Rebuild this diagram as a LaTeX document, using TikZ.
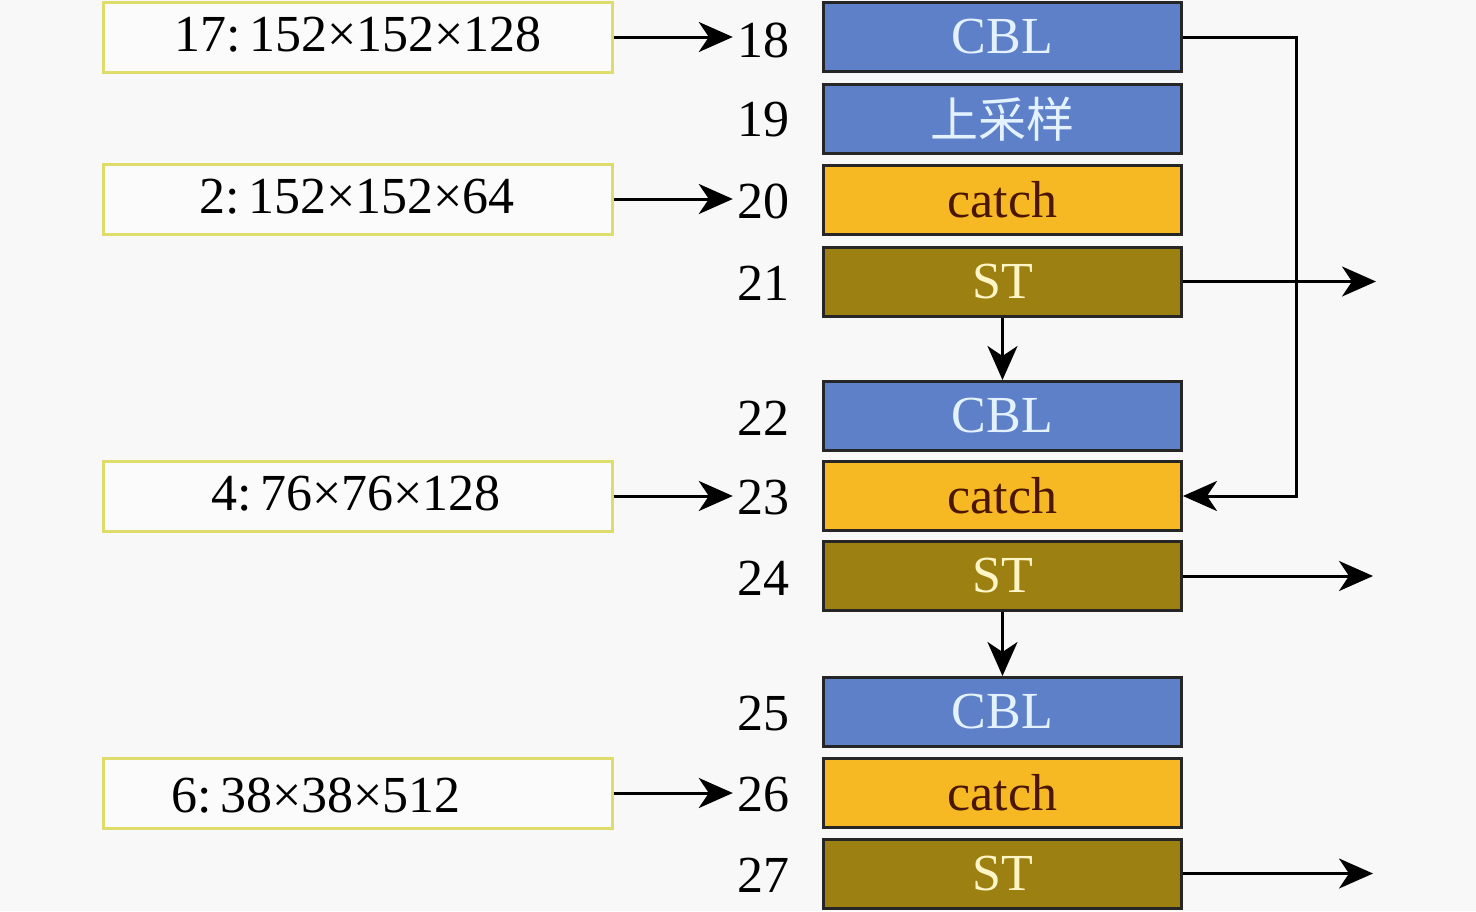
\documentclass[tikz,border=0pt]{standalone}
\usepackage{fontspec}
\setmainfont{Liberation Serif}
\newfontfamily\cjk{Noto Sans CJK SC}
\usetikzlibrary{arrows.meta}
\definecolor{bg}{HTML}{F8F8F8}
\definecolor{cblfill}{HTML}{5E80C9}
\definecolor{cbltext}{HTML}{E4F2FF}
\definecolor{catchfill}{HTML}{F6B823}
\definecolor{catchtext}{HTML}{4A1600}
\definecolor{stfill}{HTML}{9D8012}
\definecolor{sttext}{HTML}{FFF6C8}
\definecolor{inborder}{HTML}{DEDC6A}
\tikzset{
  layer/.style={draw=black!85, line width=3pt, minimum width=358pt, minimum height=69pt, inner sep=0pt, font=\fontsize{52}{56}\selectfont},
  cbl/.style={layer, fill=cblfill, text=cbltext},
  catchbox/.style={layer, fill=catchfill, text=catchtext},
  stbox/.style={layer, fill=stfill, text=sttext},
  inbox/.style={draw=inborder, line width=3pt, fill=bg!60!white, minimum width=509pt, minimum height=70pt, inner sep=0pt},
  intext/.style={font=\fontsize{52}{56}\selectfont, inner sep=0pt},
  num/.style={font=\fontsize{52}{56}\selectfont, inner sep=4pt},
  arr/.style={line width=3pt, -{Stealth[length=34pt,width=30pt,inset=10pt]}},
}
\begin{document}
\begin{tikzpicture}[x=1pt,y=-1pt]
\fill[bg] (0,0) rectangle (1476,911);
\useasboundingbox (0,0) rectangle (1476,911);
% layer stack
\node[cbl] (l18) at (1002.5,37) {CBL};
\node[cbl, font=\cjk\fontsize{48}{52}\selectfont] (l19) at (1002.5,119) {上采样};
\node[catchbox] (l20) at (1002.5,200) {catch};
\node[stbox] (l21) at (1002.5,281.5) {ST};
\node[cbl] (l22) at (1002.5,416) {CBL};
\node[catchbox] (l23) at (1002.5,496) {catch};
\node[stbox] (l24) at (1002.5,576) {ST};
\node[cbl] (l25) at (1002.5,712) {CBL};
\node[catchbox] (l26) at (1002.5,793) {catch};
\node[stbox] (l27) at (1002.5,873.5) {ST};
% numbers
\node[num] (n18) at (763,40) {18};
\node[num] (n19) at (763,120) {19};
\node[num] (n20) at (763,201) {20};
\node[num] (n21) at (763,283) {21};
\node[num] (n22) at (763,418) {22};
\node[num] (n23) at (763,498) {23};
\node[num] (n24) at (763,578) {24};
\node[num] (n25) at (763,714) {25};
\node[num] (n26) at (763,795) {26};
\node[num] (n27) at (763,875) {27};
% input boxes
\node[inbox] (i17) at (357.5,37) {};
\node[intext] at (358,35) {17:\,152×152×128};
\node[inbox] (i2) at (357.5,199) {};
\node[intext] at (357,197) {2:\,152×152×64};
\node[inbox] (i4) at (357.5,496) {};
\node[intext] at (356,494) {4:\,76×76×128};
\node[inbox] (i6) at (357.5,793) {};
\node[intext] at (316,796) {6:\,38×38×512};
% input arrows
\draw[arr] (i17.east) -- (i17.east -| n18.west);
\draw[arr] (i2.east) -- (i2.east -| n20.west);
\draw[arr] (i4.east) -- (i4.east -| n23.west);
\draw[arr] (i6.east) -- (i6.east -| n26.west);
% vertical flow
\draw[arr] (l21.south) -- (l22.north);
\draw[arr] (l24.south) -- (l25.north);
% skip connection
\coordinate (sk) at (1296,0);
\draw[arr] (l18.east) -| (sk |- l23.east) -- (l23.east);
% outputs
\coordinate (o21) at (1376,281.5);
\coordinate (o24) at (1373,576);
\coordinate (o27) at (1373,873.5);
\draw[arr] (l21.east) -- (o21);
\draw[arr] (l24.east) -- (o24);
\draw[arr] (l27.east) -- (o27);
\end{tikzpicture}
\end{document}
